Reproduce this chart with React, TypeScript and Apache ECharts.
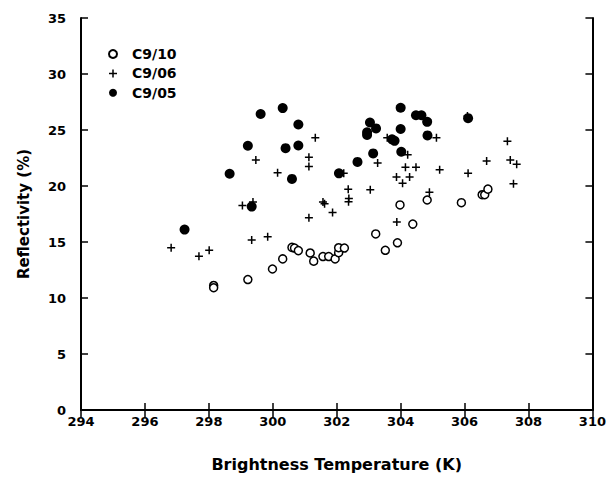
import React, { useEffect, useRef } from "react";
import * as echarts from "echarts";

// Brightness temperature (K), reflectivity (%)
const c910: [number, number][] = [
  [300.6, 14.52], [300.68, 14.46], [300.8, 14.23], [301.17, 14.02], [301.28, 13.29],
  [300.31, 13.49], [299.99, 12.59], [299.22, 11.65], [298.15, 11.12], [298.15, 10.92],
  [303.98, 18.31], [304.83, 18.75], [305.9, 18.51], [306.55, 19.22], [306.63, 19.22],
  [306.73, 19.72], [304.38, 16.6], [303.22, 15.72], [303.9, 14.93], [303.52, 14.26],
  [301.57, 13.7], [301.75, 13.7], [301.95, 13.49], [302.06, 14.05], [302.06, 14.49],
  [302.24, 14.46],
];

const c906: [number, number][] = [
  [301.33, 24.3], [299.47, 22.32], [301.13, 22.56], [301.13, 21.74], [300.15, 21.18],
  [299.38, 18.57], [299.05, 18.27], [301.13, 17.17], [299.84, 15.46], [299.34, 15.17],
  [296.82, 14.49], [298.01, 14.26], [297.69, 13.73], [303.58, 24.3], [305.12, 24.3],
  [304.22, 22.8], [303.28, 22.06], [306.69, 22.24], [304.15, 21.68], [304.48, 21.68],
  [305.22, 21.44], [302.22, 21.13], [303.87, 20.8], [304.28, 20.8], [306.11, 21.13],
  [304.06, 20.25], [302.36, 19.72], [303.05, 19.66], [304.9, 19.45], [301.57, 18.57],
  [301.62, 18.42], [302.38, 18.89], [302.37, 18.6], [301.87, 17.63], [303.88, 16.78],
  [307.34, 24.0], [307.43, 22.32], [307.63, 21.95], [307.53, 20.21], [306.09, 26.26],
];

const c905: [number, number][] = [
  [300.31, 26.96], [299.62, 26.43], [300.8, 25.49], [299.22, 23.59], [300.4, 23.38],
  [300.8, 23.62], [298.65, 21.09], [300.6, 20.63], [299.34, 18.16], [297.24, 16.11],
  [304.0, 26.99], [304.48, 26.32], [304.65, 26.32], [304.83, 25.73], [306.11, 26.06],
  [303.04, 25.67], [303.23, 25.14], [302.95, 24.79], [302.95, 24.56], [304.0, 25.09],
  [304.84, 24.52], [303.73, 24.17], [303.81, 24.03], [304.02, 23.06], [303.14, 22.91],
  [302.65, 22.15], [302.07, 21.13],
];

const seriesNames = ["C9/10", "C9/06", "C9/05"];
const xTitle = "Brightness Temperature (K)";
const yTitle = "Reflectivity (%)";

const PLUS =
  "path://M3.25,0H4.75V3.25H8V4.75H4.75V8H3.25V4.75H0V3.25H3.25Z";
const FONT = "DejaVu Sans";

export default function App() {
  const ref = useRef<HTMLDivElement>(null);
  useEffect(() => {
    if (!ref.current) return;
    document.body.style.margin = "0";
    const chart = echarts.init(ref.current, undefined, { renderer: "svg" });
    const axisLine = { show: true, lineStyle: { color: "#000", width: 2 } };
    const tick = { show: true, inside: true, length: 7, lineStyle: { color: "#000", width: 1.5 } };
    const label = { color: "#000", fontFamily: FONT, fontWeight: "bold" as const, fontSize: 13 };
    chart.setOption({
      animation: false,
      backgroundColor: "#fff",
      grid: { left: 81, right: 16, top: 18, bottom: 61 },
      legend: {
        orient: "vertical",
        left: 103,
        top: 42,
        itemWidth: 28,
        itemHeight: 8,
        itemGap: 5.4,
        textStyle: { color: "#000", fontFamily: FONT, fontWeight: "bold", fontSize: 14, lineHeight: 14 },
        data: seriesNames,
      },
      xAxis: [
        {
          type: "value", min: 294, max: 310, interval: 2, position: "bottom",
          axisLine, axisTick: tick, splitLine: { show: false },
          axisLabel: { ...label, margin: 5 },
          name: xTitle, nameLocation: "middle", nameGap: 46,
          nameTextStyle: { color: "#000", fontFamily: FONT, fontWeight: "bold", fontSize: 16 },
        },
        {
          type: "value", min: 294, max: 310, interval: 2, position: "top",
          axisLine, axisTick: tick, splitLine: { show: false }, axisLabel: { show: false },
        },
      ],
      yAxis: [
        {
          type: "value", min: 0, max: 35, interval: 5, position: "left",
          axisLine, axisTick: tick, splitLine: { show: false },
          axisLabel: { ...label, margin: 15 },
          name: yTitle, nameLocation: "middle", nameGap: 50,
          nameTextStyle: { color: "#000", fontFamily: FONT, fontWeight: "bold", fontSize: 15 },
        },
        {
          type: "value", min: 0, max: 35, interval: 5, position: "right",
          axisLine, axisTick: tick, splitLine: { show: false }, axisLabel: { show: false },
        },
      ],
      series: [
        {
          name: seriesNames[0], type: "scatter", data: c910, symbol: "circle", symbolSize: 8,
          itemStyle: { color: "#fff", borderColor: "#000", borderWidth: 1.5, opacity: 1 },
          z: 3,
        },
        {
          name: seriesNames[1], type: "scatter", data: c906, symbol: PLUS, symbolSize: 8,
          symbolKeepAspect: true,
          itemStyle: { color: "#000", opacity: 1 },
          z: 4,
        },
        {
          name: seriesNames[2], type: "scatter", data: c905, symbol: "circle", symbolSize: 10,
          itemStyle: { color: "#000", opacity: 1 },
          z: 5,
        },
      ],
    });
    return () => chart.dispose();
  }, []);
  return (
    <div
      ref={ref}
      style={{ position: "absolute", left: 0, top: 0, width: 609, height: 477 }}
    />
  );
}
